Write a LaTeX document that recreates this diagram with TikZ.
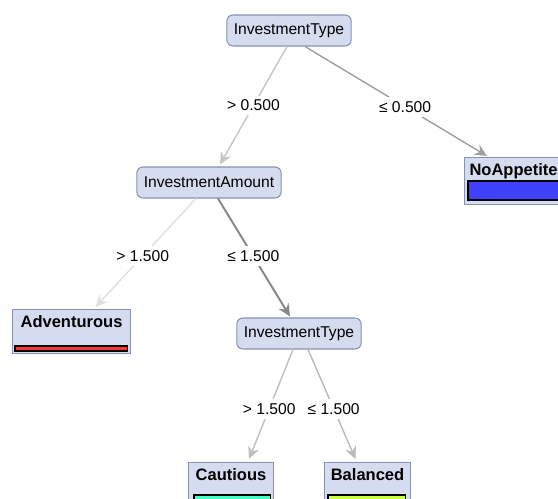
\documentclass[tikz,border=0pt]{standalone}
\usepackage{fontspec}
\setmainfont{Liberation Sans}
\usepackage{xcolor}
\usetikzlibrary{arrows.meta,calc}
\definecolor{nodeFill}{HTML}{D6DCF0}
\definecolor{nodeLine}{HTML}{8792B2}
\definecolor{barBlue}{HTML}{4040FF}
\definecolor{barRed}{HTML}{FF3434}
\definecolor{barMint}{HTML}{44FFC4}
\definecolor{barLime}{HTML}{CCFF40}

\begin{document}
\begin{tikzpicture}[x=0.02cm, y=-0.02cm]
    \fontsize{8.9}{10}\selectfont
    \useasboundingbox (0,0) rectangle (558,499);
    \clip (0,0) rectangle (558,499);

    % Shapes
    \tikzstyle{split}=[rectangle, rounded corners=3.5pt, draw=nodeLine, fill=nodeFill, line width=0.6pt, minimum height=0.62cm, inner xsep=0.14cm]
    \tikzstyle{leaf}=[rectangle, draw=nodeLine, fill=nodeFill, line width=0.6pt, anchor=north west, font=\fontsize{9.4}{10}\selectfont\bfseries, text height=0.27cm, text depth=0.43cm, inner ysep=0.09cm, inner xsep=0.1cm]
    \tikzstyle{bar}=[draw=black, line width=0.6pt]
    \tikzstyle{branch}=[line width=0.8pt, -{Stealth[length=7pt, width=6.5pt, inset=2.4pt]}]
    \tikzstyle{cond}=[fill=white, inner sep=2.5pt, text=black]

    % Splits
    \node[split] at (289,30.5) (rootType) {InvestmentType};
    \node[split] at (209,182.5) (nodeAmount) {InvestmentAmount};
    \node[split] at (299,333.5) (nodeType) {InvestmentType};

    % Leaves
    \node[leaf, minimum width=1.96cm, text depth=0.49cm] at (464,157) (leafNo) {NoAppetite};
    \node[leaf, minimum width=2.36cm] at (12,309) (leafAdv) {Adventurous};
    \node[leaf, minimum width=1.7cm] at (188,462) (leafCau) {Cautious};
    \node[leaf, minimum width=1.72cm] at (324,462) (leafBal) {Balanced};

    % Bars
    \draw[bar, fill=barBlue] ([shift={(4,24)}]leafNo.north west) rectangle ([shift={(-4,43)}]leafNo.north east);
    \draw[bar, fill=barRed] ([shift={(3,37)}]leafAdv.north west) rectangle ([shift={(-4,42)}]leafAdv.north east);
    \draw[bar, fill=barMint] ([shift={(6,33)}]leafCau.north west) rectangle ([shift={(-4,40)}]leafCau.north east);
    \draw[bar, fill=barLime] ([shift={(4,33)}]leafBal.north west) rectangle ([shift={(-6,40)}]leafBal.north east);

    % Arrows
    \draw[branch, gray!45] ([shift={(-2,0)}]rootType.south) -- node[cond, pos=0.5] {> 0.500} ([shift={(11,-2)}]nodeAmount.north);
    \draw[branch, gray!75] ([shift={(16,0)}]rootType.south) -- node[cond, pos=0.55] {≤ 0.500} ([shift={(23,-1)}]leafNo.north west);
    \draw[branch, gray!25] ([shift={(-13,0)}]nodeAmount.south) -- node[cond, pos=0.53] {> 1.500} ([shift={(24,-2)}]leafAdv.north);
    \draw[branch, gray!95, line width=1.1pt] ([shift={(9,0)}]nodeAmount.south) -- node[cond, pos=0.49] {≤ 1.500} ([shift={(-9,-1)}]nodeType.north);
    \draw[branch, gray!50] ([shift={(-6,0)}]nodeType.south) -- node[cond, pos=0.54] {> 1.500} ([shift={(18,-3)}]leafCau.north);
    \draw[branch, gray!55] ([shift={(9,0)}]nodeType.south) -- node[cond, pos=0.54] {≤ 1.500} ([shift={(-12,-3)}]leafBal.north);
\end{tikzpicture}
\end{document}
